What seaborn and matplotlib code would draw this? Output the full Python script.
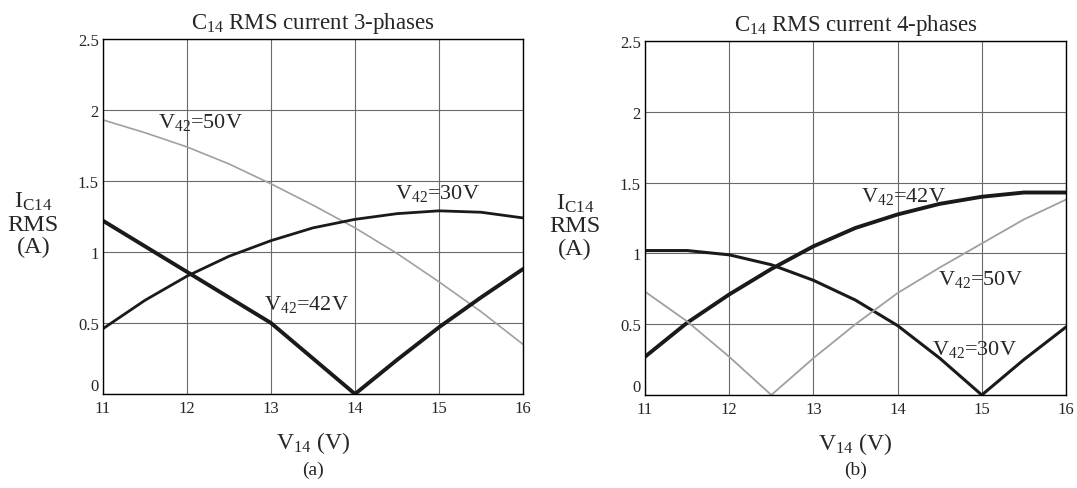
import numpy as np
import pandas as pd
import matplotlib
matplotlib.use("Agg")
import matplotlib.pyplot as plt
import seaborn as sns

# V14 sweep (V)
v14 = [11, 11.5, 12, 12.5, 13, 13.5, 14, 14.5, 15, 15.5, 16]

# (a) 3-phases, C14 RMS current (A)
a_50v = [1.93, 1.84, 1.74, 1.62, 1.48, 1.33, 1.17, 0.99, 0.79, 0.58, 0.35]
a_30v = [0.46, 0.66, 0.83, 0.97, 1.08, 1.17, 1.23, 1.27, 1.29, 1.28, 1.24]
a_42v = [1.22, 1.04, 0.86, 0.68, 0.50, 0.25, 0.00, 0.24, 0.47, 0.68, 0.88]

# (b) 4-phases
b_42v = [0.27, 0.51, 0.71, 0.89, 1.05, 1.18, 1.275, 1.35, 1.40, 1.43, 1.43]
b_30v = [1.02, 1.02, 0.99, 0.92, 0.81, 0.67, 0.49, 0.26, 0.00, 0.25, 0.48]
b_50v = [0.73, 0.52, 0.27, 0.00, 0.26, 0.50, 0.72, 0.90, 1.07, 1.24, 1.38]

xticks = [11, 12, 13, 14, 15, 16]
yticks = [0, 0.5, 1, 1.5, 2, 2.5]
ytick_labels = ["0", "0.5", "1", "1.5", "2", "2.5"]

sns.set_style("white")
plt.rcParams["font.family"] = ["Liberation Serif", "DejaVu Serif"]
plt.rcParams["mathtext.fontset"] = "custom"
plt.rcParams["mathtext.rm"] = "Liberation Serif"
plt.rcParams["mathtext.it"] = "Liberation Serif"

fig = plt.figure(figsize=(10.77, 4.89), dpi=100)
ax_a = fig.add_axes([103 / 1077, 1 - 395 / 489, 420 / 1077, 355 / 489])
ax_b = fig.add_axes([645 / 1077, 1 - 396 / 489, 421 / 1077, 354 / 489])

gray = "#a0a0a0"
dark = "#1a1a1a"

panel_a = [(a_50v, gray, 1.2), (a_30v, dark, 2.0), (a_42v, dark, 2.8)]
panel_b = [(b_42v, dark, 2.8), (b_30v, dark, 2.2), (b_50v, gray, 1.3)]

# curve labels: (V42 value, x, y) in data units
labels_a = [("50", 11.65, 1.92), ("30", 14.48, 1.42), ("42", 12.92, 0.64)]
labels_b = [("42", 13.57, 1.41), ("50", 14.48, 0.82), ("30", 14.41, 0.33)]

for ax, series, labels, title, tag in [
    (ax_a, panel_a, labels_a, "C$_{14}$ RMS current 3-phases", "(a)"),
    (ax_b, panel_b, labels_b, "C$_{14}$ RMS current 4-phases", "(b)"),
]:
    for vals, col, lw in series:
        df = pd.DataFrame({"v14": v14, "irms": vals})
        sns.lineplot(data=df, x="v14", y="irms", ax=ax, color=col, linewidth=lw)

    ax.set_xlim(11, 16)
    ax.set_ylim(0, 2.5)
    ax.set_xticks(xticks)
    ax.set_xticklabels([str(t) for t in xticks])
    ax.set_yticks(yticks)
    ax.set_yticklabels(ytick_labels)
    ax.tick_params(length=0, labelsize=12)
    ax.tick_params(axis="x", pad=4)
    ax.tick_params(axis="y", pad=3)
    ax.get_yticklabels()[0].set_va("bottom")
    ax.grid(True, color="#6a6a6a", linewidth=0.8)
    ax.set_axisbelow(True)
    for sp in ax.spines.values():
        sp.set_color("black")
        sp.set_linewidth(1.0)

    ax.set_title(title, fontsize=16.5, pad=8)
    ax.set_xlabel("V$_{14}$ (V)", fontsize=17, labelpad=10)
    ax.set_ylabel("")
    ax.text(-0.166, 0.48, "I$_{C14}$\nRMS\n(A)", transform=ax.transAxes,
            fontsize=17.5, ha="center", va="center", linespacing=1.1)

    for volt, lx, ly in labels:
        ax.text(lx, ly, "V$_{42}$=" + volt + "V", fontsize=16, ha="left", va="center")

    pos = ax.get_position()
    fig.text(pos.x0 + pos.width / 2, 1 - 470 / 489, tag, fontsize=14, ha="center", va="center")

fig.savefig("out.png", dpi=100)
